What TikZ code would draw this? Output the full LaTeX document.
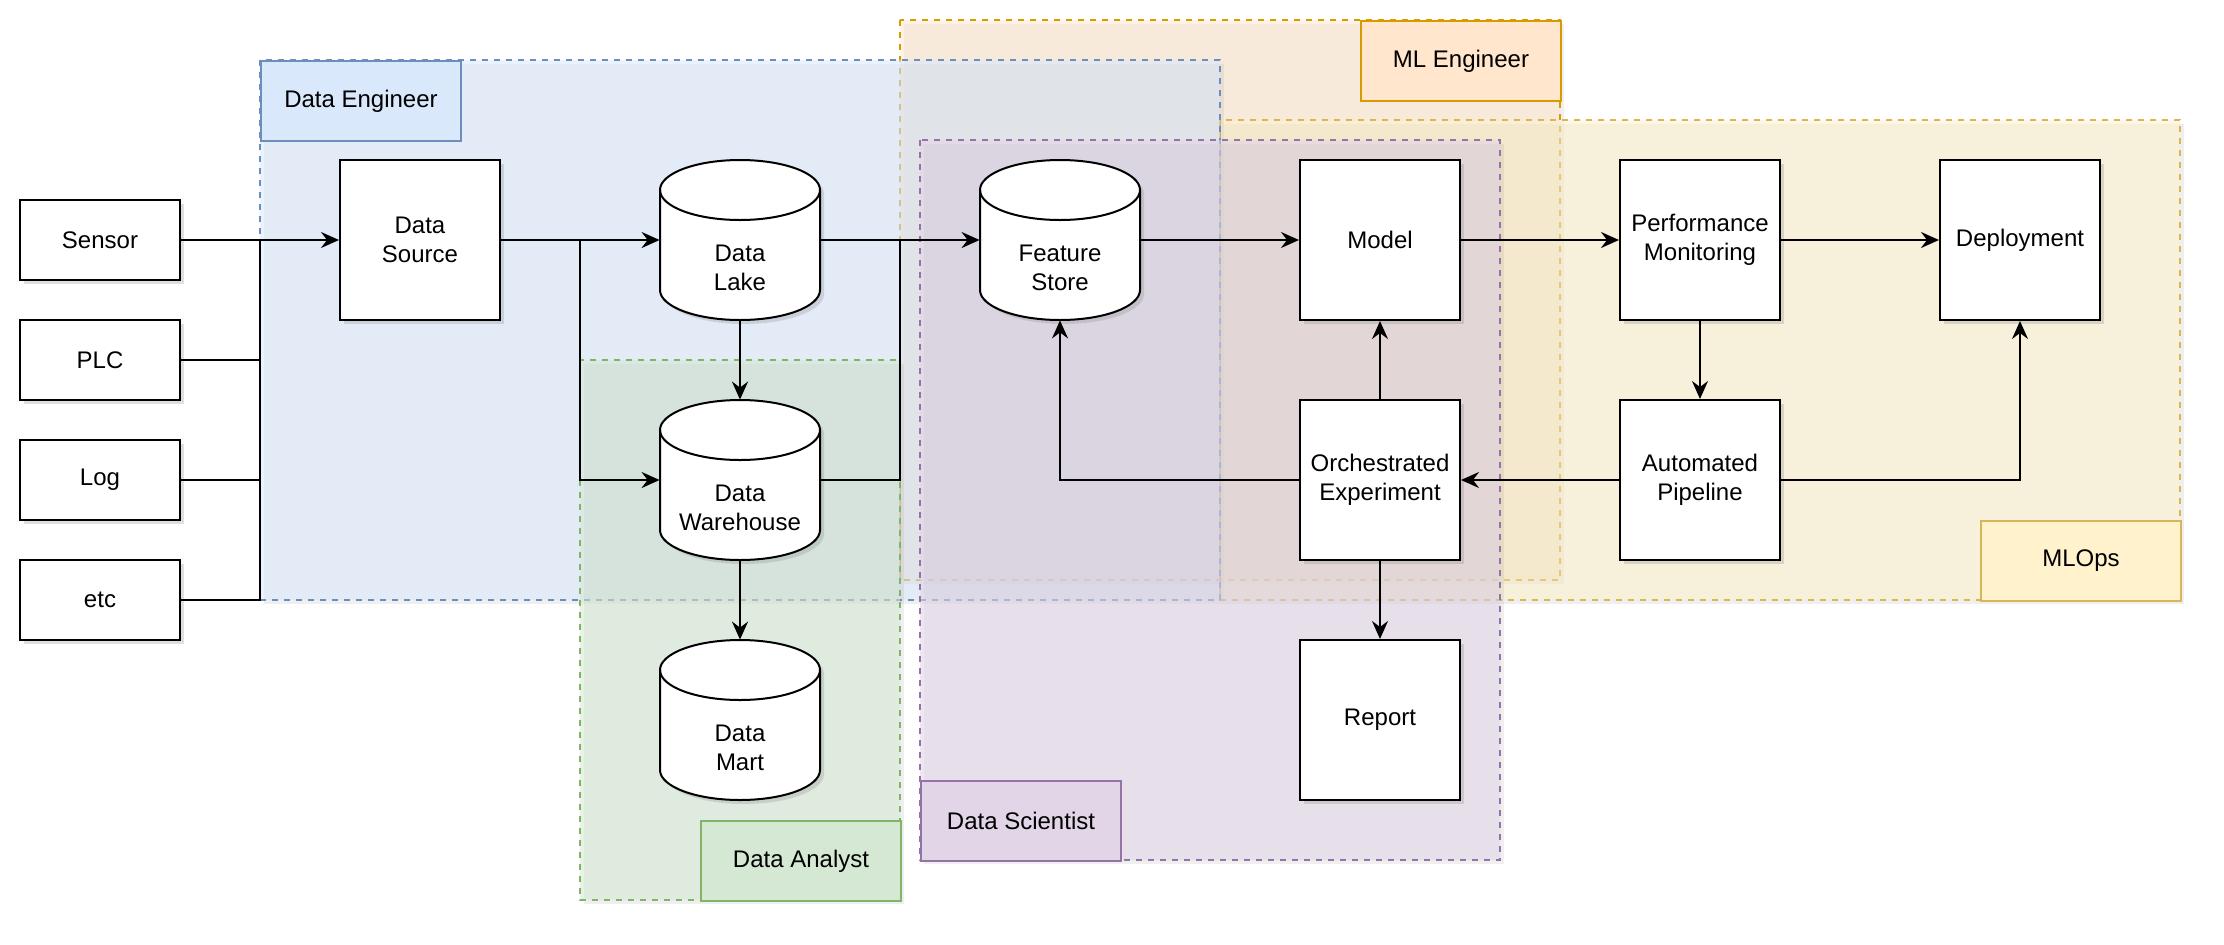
\documentclass[tikz,border=0pt]{standalone}
\usepackage{fontspec}
\setmainfont{Liberation Sans}
\usetikzlibrary{arrows.meta}
\usetikzlibrary{shadows}

\definecolor{deLine}{HTML}{6C8EBF}
\definecolor{deFill}{HTML}{DAE8FC}
\definecolor{mlLine}{HTML}{D79B00}
\definecolor{mlFill}{HTML}{FFE6CC}
\definecolor{opsLine}{HTML}{D6B656}
\definecolor{opsFill}{HTML}{FFF2CC}
\definecolor{dsLine}{HTML}{9673A6}
\definecolor{dsFill}{HTML}{E1D5E7}
\definecolor{daLine}{HTML}{82B366}
\definecolor{daFill}{HTML}{D5E8D4}

% cylinder store: name, x, y (centre), text
\newcommand{\dbstore}[4]{%
    \draw[cyl] ({#2-40},{#3-25}) -- ({#2-40},{#3+25})
        arc[start angle=180, end angle=0, x radius=40, y radius=15]
        -- ({#2+40},{#3-25})
        arc[start angle=0, end angle=-180, x radius=40, y radius=15] -- cycle;
    \draw[line width=1pt] ({#2-40},{#3-25})
        arc[start angle=180, end angle=0, x radius=40, y radius=15];
    \node[hole] (#1) at (#2,#3) {};
    \node[tx] (#1-t) at (#2,{#3+14}) {#4};
}

\begin{document}
\begin{tikzpicture}[
    x=1pt, y=-1pt, % y grows downwards
    every node/.style={
        font=\fontsize{12pt}{14.4pt}\selectfont, % 12pt sans
        align=center
    },
    box/.style={draw, line width=1pt, fill=white,
        minimum width=80pt, minimum height=80pt,
        drop shadow={opacity=0.25, shadow xshift=2pt, shadow yshift=-2pt}},
    src/.style={box, minimum height=40pt},
    hole/.style={minimum width=80pt, minimum height=80pt, inner sep=0pt},
    tx/.style={inner sep=0pt},
    cyl/.style={draw, line width=1pt, fill=white,
        drop shadow={opacity=0.25, shadow xshift=2pt, shadow yshift=-2pt}},
    lane/.style 2 args={draw=#1, fill=#2, fill opacity=0.55,
        line width=1pt, dash pattern=on 3pt off 3pt,
        drop shadow={opacity=0.12, shadow xshift=2pt, shadow yshift=-2pt}},
    tag/.style 2 args={draw=#1, fill=#2, line width=1pt, inner sep=0pt,
        minimum width=100pt, minimum height=40pt, anchor=north west},
    flow/.style={line width=1pt, -{Stealth[length=9pt, width=8pt, inset=3pt]}},
    wire/.style={line width=1pt}
]

\path[use as bounding box, fill=white] (0,0) rectangle (1112,472);

% role areas, back to front
\draw[lane={mlLine}{mlFill}] (450,10) rectangle (780,290);
\draw[lane={opsLine}{opsFill}] (610,60) rectangle (1090,300);
\draw[lane={deLine}{deFill}] (130,30) rectangle (610,300);
\draw[lane={daLine}{daFill}] (290,180) rectangle (450,450);
\draw[lane={dsLine}{dsFill}] (460,70) rectangle (750,430);

\node[tag={deLine}{deFill}] (de-tag) at (130,30) {Data Engineer};
\node[tag={mlLine}{mlFill}] (ml-tag) at (680,10) {ML Engineer};
\node[tag={opsLine}{opsFill}] (ops-tag) at (990,260) {MLOps};
\node[tag={dsLine}{dsFill}] (ds-tag) at (460,390) {Data Scientist};
\node[tag={daLine}{daFill}] (da-tag) at (350,410) {Data Analyst};

% sources
\node[src] (sensor) at (50,120) {Sensor};
\node[src] (plc) at (50,180) {PLC};
\node[src] (log) at (50,240) {Log};
\node[src] (etc) at (50,300) {etc};

\node[box] (dsrc) at (210,120) {Data\\Source};
\dbstore{lake}{370}{120}{Data\\Lake}
\dbstore{whouse}{370}{240}{Data\\Warehouse}
\dbstore{mart}{370}{360}{Data\\Mart}
\dbstore{feat}{530}{120}{Feature\\Store}

\node[box] (model) at (690,120) {Model};
\node[box] (perf) at (850,120) {Performance\\Monitoring};
\node[box] (deploy) at (1010,120) {Deployment};
\node[box] (orch) at (690,240) {Orchestrated\\Experiment};
\node[box] (pipe) at (850,240) {Automated\\Pipeline};
\node[box] (report) at (690,360) {Report};

\coordinate (bus) at (130,120);
\coordinate (fork) at (290,120);
\coordinate (join) at (450,120);

% connectors
\draw[flow] (sensor) -- (dsrc);
\foreach \s in {plc,log,etc}
    \draw[wire] (\s.east) -| (bus);
\draw[flow] (dsrc) -- (lake);
\draw[flow] (fork) |- (whouse.west);
\draw[flow] (lake) -- (whouse);
\draw[flow] (whouse) -- (mart);
\draw[flow] (lake) -- (feat);
\draw[wire] (whouse.east) -| (join);
\draw[flow] (feat) -- (model);
\draw[flow] (model) -- (perf);
\draw[flow] (perf) -- (deploy);
\draw[flow] (perf) -- (pipe);
\draw[flow] (pipe) -| (deploy);
\draw[flow] (pipe) -- (orch);
\draw[flow] (orch) -- (model);
\draw[flow] (orch) -| (feat);
\draw[flow] (orch) -- (report);
\end{tikzpicture}
\end{document}
